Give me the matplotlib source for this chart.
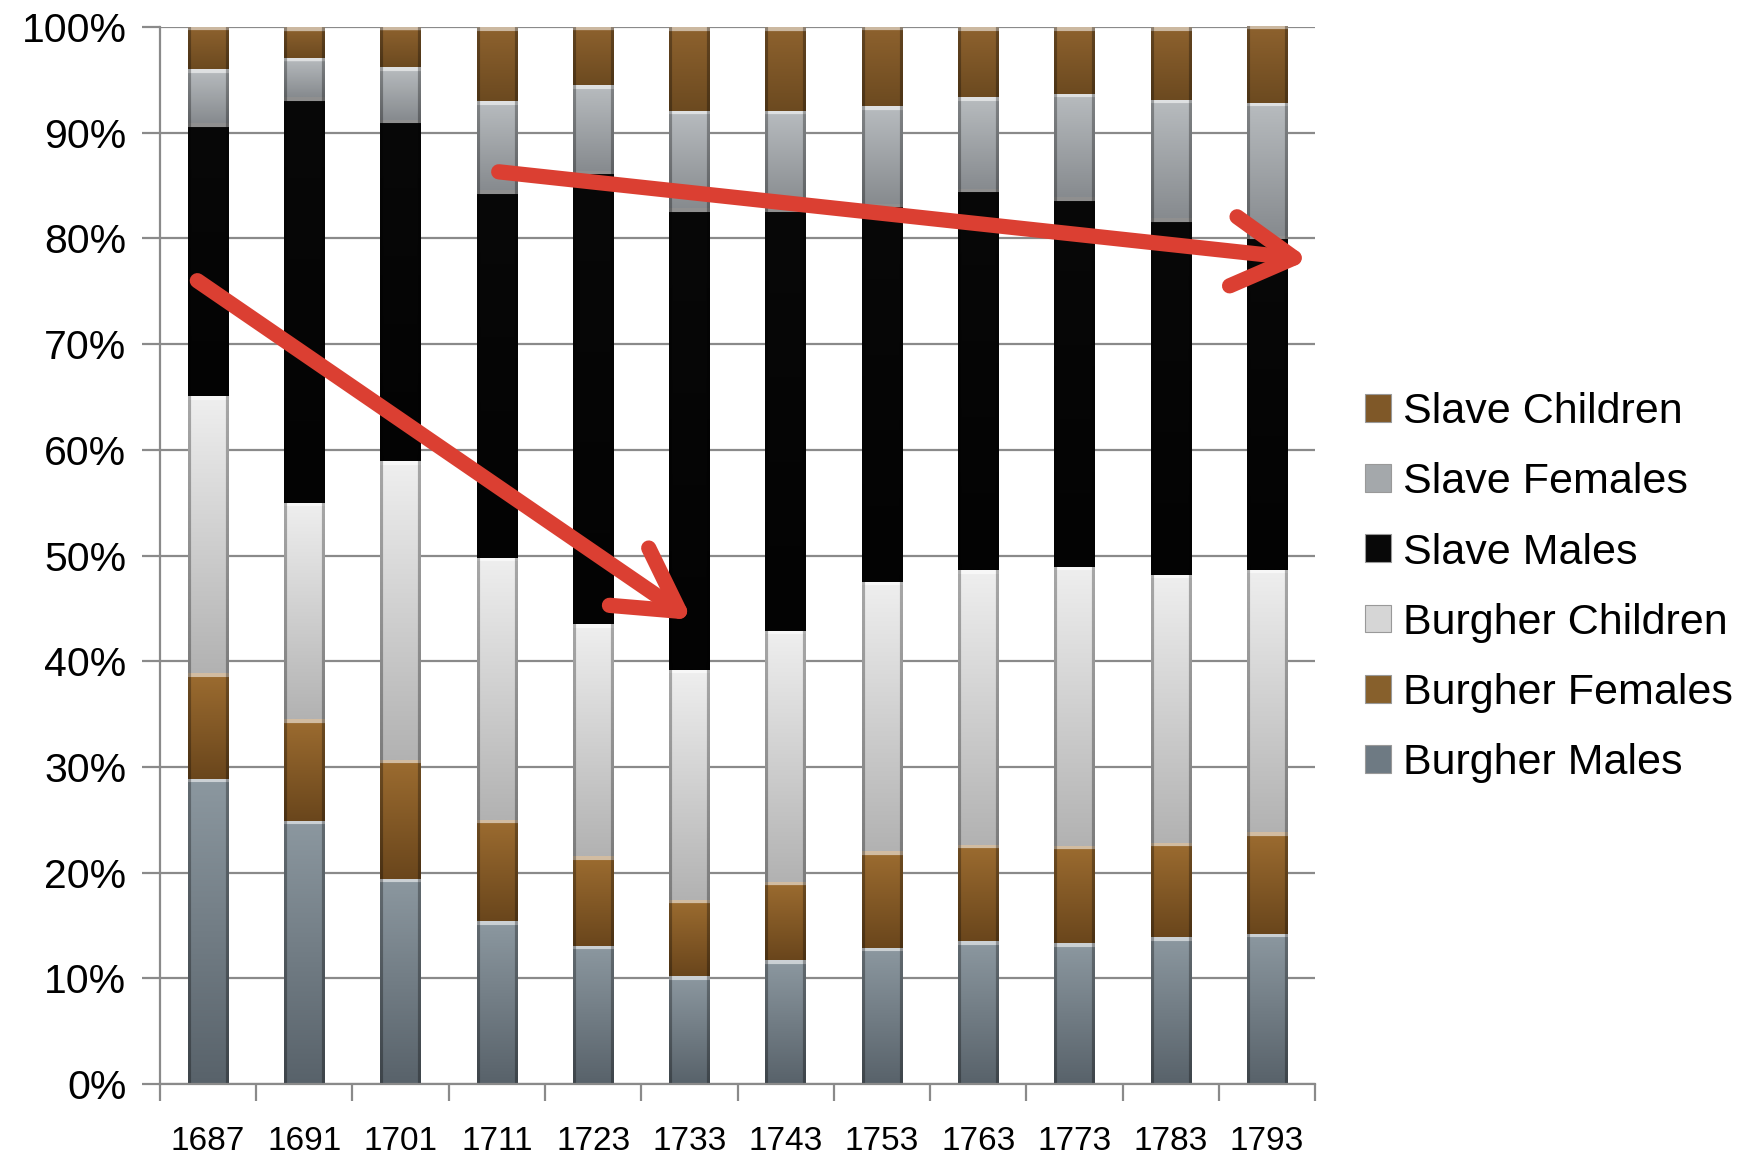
import matplotlib

matplotlib.use("Agg")
import matplotlib.pyplot as plt
import numpy as np
from matplotlib.colors import to_rgb
from matplotlib.patches import FancyArrowPatch, Patch

plt.rcParams["font.family"] = ["Liberation Sans", "DejaVu Sans"]

years = ["1687", "1691", "1701", "1711", "1723", "1733", "1743", "1753", "1763", "1773", "1783", "1793"]

# shares in percent (bottom to top)
burgher_males = [28.9, 24.9, 19.4, 15.4, 13.1, 10.2, 11.7, 12.9, 13.5, 13.3, 13.9, 14.2]
burgher_females = [10.0, 9.6, 11.3, 9.6, 8.5, 7.2, 7.4, 9.1, 9.1, 9.2, 8.9, 9.6]
burgher_children = [26.2, 20.5, 28.2, 24.8, 21.9, 21.8, 23.8, 25.5, 26.0, 26.4, 25.4, 24.8]
slave_males = [25.8, 38.4, 32.3, 34.8, 42.9, 43.7, 40.0, 35.8, 36.1, 35.0, 33.7, 31.6]
slave_females = [5.1, 3.7, 5.0, 8.4, 8.1, 9.2, 9.2, 9.2, 8.7, 9.8, 11.2, 12.6]
slave_children = [4.0, 2.9, 3.8, 7.0, 5.5, 7.9, 7.9, 7.5, 6.6, 6.3, 6.9, 7.3]

series = [
    ("Burgher Males", burgher_males, "#8c98a0", "#58626a", "#6e7a83"),
    ("Burgher Females", burgher_females, "#9c6c30", "#6a461c", "#87602c"),
    ("Burgher Children", burgher_children, "#efefef", "#b2b2b2", "#d6d6d6"),
    ("Slave Males", slave_males, "#080808", "#030303", "#080808"),
    ("Slave Females", slave_females, "#b8bcbf", "#878b8f", "#a4a8ab"),
    ("Slave Children", slave_children, "#8e622e", "#6c4a20", "#7f5828"),
]

# red arrows: (x start, y start) -> (x end, y end) in category index / percent
arrow_starts = [(-0.11, 76.0), (3.02, 86.3)]
arrow_ends = [(5.03, 43.9), (11.44, 78.0)]


def shade(ax, patch, top, bottom):
    # vertical gradient with darker side edges and a light top bevel
    h = max(int(patch.get_height() * 10.5), 4)
    w = 40
    t = np.linspace(0, 1, h)[:, None]
    c0, c1 = np.array(to_rgb(top)), np.array(to_rgb(bottom))
    img = c0 * (1 - t[..., None]) + c1 * t[..., None]
    img = np.repeat(img, w, axis=1)
    img[:4] = img[:4] * 0.45 + 0.55
    img[:, :3] *= 0.7
    img[:, -3:] *= 0.7
    img = np.clip(img, 0, 1)
    x, y = patch.get_x(), patch.get_y()
    im = ax.imshow(img, extent=[x, x + patch.get_width(), y, y + patch.get_height()],
                   aspect="auto", origin="upper", zorder=2.5, interpolation="bilinear")
    im.set_clip_path(patch)


fig = plt.figure(figsize=(17.56, 11.59), dpi=100)
ax = fig.add_axes([0.091, 0.0647, 0.658, 0.912])

x = np.arange(len(years))
bottom = np.zeros(len(years))
handles = []
for name, vals, top, bot, mid in series:
    bars = ax.bar(x, vals, 0.42, bottom=bottom, color=bot, linewidth=0, zorder=2)
    for p in bars.patches:
        shade(ax, p, top, bot)
    bottom += np.array(vals)
    handles.append(Patch(facecolor=mid, edgecolor="#999999", linewidth=0.8, label=name))

for (x0, y0), (x1, y1) in zip(arrow_starts, arrow_ends):
    arr = FancyArrowPatch((x0, y0), (x1, y1), arrowstyle="->,head_length=44,head_width=25",
                          mutation_scale=1, color="#db3f32", linewidth=11,
                          capstyle="round", joinstyle="round", shrinkA=0, shrinkB=0,
                          zorder=5, clip_on=False)
    ax.add_patch(arr)

ax.set_xlim(-0.5, 11.5)
ax.set_ylim(0, 100)
ax.set_yticks(np.arange(0, 101, 10))
ax.set_yticklabels([f"{v}%" for v in range(0, 101, 10)], fontsize=29.5)
ax.yaxis.grid(True, color="#8a8a8a", linewidth=1.6, zorder=0)
ax.set_axisbelow(True)
ax.tick_params(axis="y", length=13, width=1.6, color="#8a8a8a", pad=11)

ax.set_xticks(x)
ax.set_xticklabels(years, fontsize=24)
ax.set_xticks(np.arange(-0.5, 12, 1), minor=True)
ax.tick_params(axis="x", which="major", length=0, pad=30)
ax.tick_params(axis="x", which="minor", length=12, width=1.6, color="#8a8a8a")

for s in ["top", "right"]:
    ax.spines[s].set_visible(False)
for s in ["left", "bottom"]:
    ax.spines[s].set_color("#8a8a8a")
    ax.spines[s].set_linewidth(1.6)

fig.legend(handles[::-1], [h.get_label() for h in handles[::-1]], loc="center left",
           bbox_to_anchor=(0.755, 0.493), frameon=False, fontsize=31,
           handlelength=0.62, handleheight=0.62, handletextpad=0.28, labelspacing=0.70)

fig.savefig("out.png", dpi=100)
